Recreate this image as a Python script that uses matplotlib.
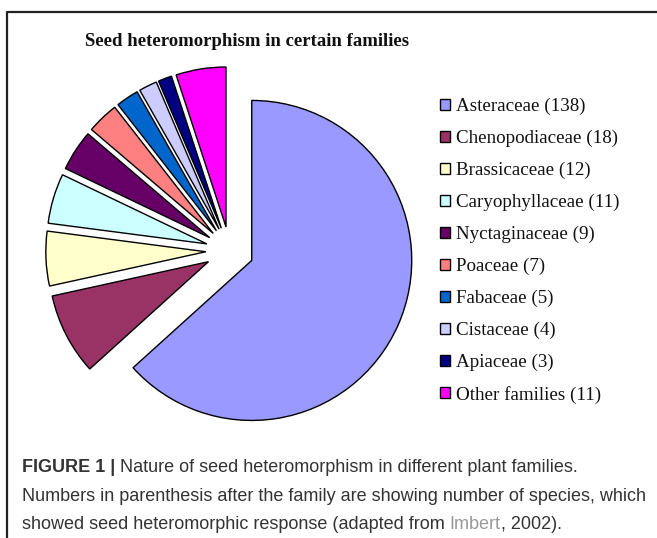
import matplotlib
matplotlib.use("Agg")
import matplotlib.pyplot as plt

families = ["Asteraceae", "Chenopodiaceae", "Brassicaceae", "Caryophyllaceae",
            "Nyctaginaceae", "Poaceae", "Fabaceae", "Cistaceae", "Apiaceae",
            "Other families"]
species = [138, 18, 12, 11, 9, 7, 5, 4, 3, 11]
colors = ["#9999FF", "#993366", "#FFFFCC", "#CCFFFF", "#660066",
          "#FF8080", "#0066CC", "#CCCCFF", "#000080", "#FF00FF"]
labels = ["%s (%d)" % (f, n) for f, n in zip(families, species)]

W, H = 657, 538
fig = plt.figure(figsize=(W / 100, H / 100), dpi=100)
ax = fig.add_axes([0, 0, 1, 1])

# pie in pixel units (y up)
wedges, _ = ax.pie(species, colors=colors, startangle=90, counterclock=False,
                   radius=160, center=(229.8, H - 250.7), explode=[24] * len(species),
                   wedgeprops=dict(edgecolor="black", linewidth=1.0))
ax.set_xlim(0, W)
ax.set_ylim(0, H)
ax.set_aspect("auto")
ax.axis("off")

# frame lines (top and left only)
ax.plot([7, 7, W], [0, H - 12, H - 12], color="#222222", linewidth=1.6,
        solid_capstyle="butt", clip_on=False)

ax.text(247, H - 41, "Seed heteromorphism in certain families", ha="center", va="center",
        family="Liberation Serif", fontweight="bold", fontsize=13.5, color="#111111")

leg = ax.legend(wedges, labels, loc="upper left", bbox_to_anchor=(440 / W, (H - 98) / H),
                frameon=False, borderpad=0, borderaxespad=0, handlelength=0.5,
                handleheight=0.5, handletextpad=0.32, labelspacing=0.77,
                prop=dict(family="Liberation Serif", size=13.7))
for t in leg.get_texts():
    t.set_color("#111111")

# caption
fs = 13.0
cap = dict(family="Liberation Sans", fontsize=fs, color="#333333", va="baseline")
t1 = ax.text(22, H - 472, "FIGURE 1 |", fontweight="bold", **cap)
ax.annotate(" Nature of seed heteromorphism in different plant families.", xy=(1, 0),
            xycoords=t1, va="bottom", ha="left", family="Liberation Sans",
            fontsize=fs, color="#333333")
ax.text(22, H - 501, "Numbers in parenthesis after the family are showing number of species, which", **cap)
t3 = ax.text(22, H - 529, "showed seed heteromorphic response (adapted from ", **cap)
t4 = ax.annotate("Imbert", xy=(1, 0), xycoords=t3, va="bottom", ha="left",
                 family="Liberation Sans", fontsize=fs, color="#999999")
ax.annotate(", 2002).", xy=(1, 0), xycoords=t4, va="bottom", ha="left",
            family="Liberation Sans", fontsize=fs, color="#333333")

fig.savefig("out.png", dpi=100)
